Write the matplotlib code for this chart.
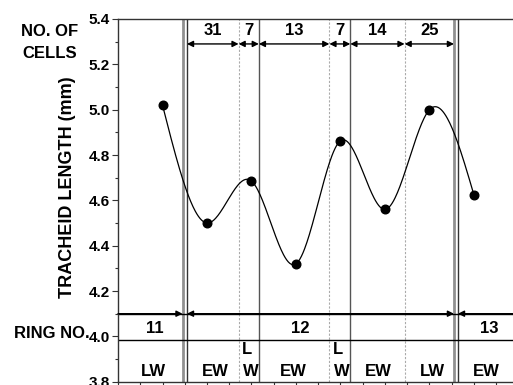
import numpy as np
import matplotlib
matplotlib.use("Agg")
import matplotlib.pyplot as plt
from matplotlib.ticker import MultipleLocator

# ---- data ----
positions = [2, 4, 6, 8, 10, 12, 14, 16]
tracheid_length = [5.02, 4.50, 4.685, 4.32, 4.863, 4.56, 5.00, 4.623]

cell_counts = ["31", "7", "13", "7", "14", "25"]
cell_bounds = [3.1, 5.42, 6.33, 9.5, 10.44, 12.88, 15.1]

ring_labels = ["11", "12", "13"]
ring_label_x = [1.66, 8.18, 16.7]
ring_bounds = [2.9, 3.1, 15.1, 15.28]

zone_labels = ["LW", "EW", "L\nW", "EW", "L\nW", "EW", "LW", "EW"]
zone_x = [1.58, 4.36, 5.87, 7.88, 9.97, 11.7, 14.14, 16.57]

dotted_lines = [5.42, 9.5, 12.88]
solid_lines = [6.33, 10.44]
gray_lines = [2.9, 15.1]
dark_lines = [3.1, 15.28]

yticks = [3.8, 4.0, 4.2, 4.4, 4.6, 4.8, 5.0, 5.2, 5.4]


def natural_spline(x, y, xs):
    x = np.asarray(x, float); y = np.asarray(y, float)
    n = len(x); h = np.diff(x)
    A = np.zeros((n, n)); r = np.zeros(n)
    A[0, 0] = 1; A[-1, -1] = 1
    for i in range(1, n - 1):
        A[i, i - 1] = h[i - 1]
        A[i, i] = 2 * (h[i - 1] + h[i])
        A[i, i + 1] = h[i]
        r[i] = 3 * ((y[i + 1] - y[i]) / h[i] - (y[i] - y[i - 1]) / h[i - 1])
    c = np.linalg.solve(A, r)
    b = (y[1:] - y[:-1]) / h - h * (2 * c[:-1] + c[1:]) / 3
    d = (c[1:] - c[:-1]) / (3 * h)
    idx = np.clip(np.searchsorted(x, xs) - 1, 0, n - 2)
    dx = xs - x[idx]
    return y[idx] + b[idx] * dx + c[idx] * dx ** 2 + d[idx] * dx ** 3


plt.rcParams['font.family'] = ['Liberation Sans', 'DejaVu Sans']
plt.rcParams['font.weight'] = 'bold'

FS = 12

W, H = 513, 385
fig = plt.figure(figsize=(W / 100, H / 100), dpi=100)
x0, x1 = 118, 118 + 18 * 22.25
y0, y1 = 381.7, 19
ax = fig.add_axes([x0 / W, 1 - y0 / H, (x1 - x0) / W, (y0 - y1) / H])
ax.set_xlim(0, 18)
ax.set_ylim(3.8, 5.4)

for s in ['left', 'top', 'bottom', 'right']:
    ax.spines[s].set_color('#333333')
    ax.spines[s].set_linewidth(1.0)

ax.xaxis.set_major_locator(MultipleLocator(1))
ax.set_xticklabels([])
ax.tick_params(axis='x', direction='out', length=4, width=0.8, color='#333333')
ax.set_yticks(yticks)
ax.yaxis.set_minor_locator(MultipleLocator(0.1))
ax.set_yticklabels([f"{v:.1f}" for v in yticks], fontsize=11, fontweight='bold')
ax.tick_params(axis='y', which='major', direction='out', length=4.5, width=0.8,
               color='#333333', pad=1.5)
ax.tick_params(axis='y', which='minor', direction='out', length=2.5, width=0.8,
               color='#333333')

# vertical boundaries
for xv in dotted_lines:
    ax.axvline(xv, color='#aaaaaa', lw=0.8, ls=(0, (2, 1.5)))
for xv in solid_lines:
    ax.axvline(xv, color='#555555', lw=1.0)
for xv in gray_lines:
    ax.axvline(xv, color='#909090', lw=2.0)
for xv in dark_lines:
    ax.axvline(xv, color='#333333', lw=1.0)

# horizontal lines in lower band
ax.axhline(3.985, color='black', lw=1.0)
ax.plot([0, 18], [4.1, 4.1], color='black', lw=1.0)

arrow_kw = dict(color='black', lw=1.0, shrinkA=0, shrinkB=0, mutation_scale=9)

# ring arrows
ax.annotate('', xy=(ring_bounds[0], 4.1), xytext=(0, 4.1),
            arrowprops=dict(arrowstyle='-|>', **arrow_kw))
ax.annotate('', xy=(ring_bounds[2], 4.1), xytext=(ring_bounds[1], 4.1),
            arrowprops=dict(arrowstyle='<|-|>', **arrow_kw))
ax.annotate('', xy=(ring_bounds[3], 4.1), xytext=(18, 4.1),
            arrowprops=dict(arrowstyle='-|>', **arrow_kw))
for lab, xv in zip(ring_labels, ring_label_x):
    ax.text(xv, 4.035, lab, ha='center', va='center', fontsize=FS, fontweight='bold')

# cell count arrows
for i, lab in enumerate(cell_counts):
    a, b = cell_bounds[i], cell_bounds[i + 1]
    ax.annotate('', xy=(b, 5.29), xytext=(a, 5.29),
                arrowprops=dict(arrowstyle='<|-|>', **arrow_kw))
    ax.text((a + b) / 2, 5.35, lab, ha='center', va='center', fontsize=FS,
            fontweight='bold')

# zone labels
for lab, xv in zip(zone_labels, zone_x):
    if '\n' in lab:
        top, bot = lab.split('\n')
        ax.text(xv - 0.08, 3.94, top, ha='center', va='center', fontsize=FS,
                fontweight='bold')
        ax.text(xv + 0.08, 3.846, bot, ha='center', va='center', fontsize=FS,
                fontweight='bold')
    else:
        ax.text(xv, 3.846, lab, ha='center', va='center', fontsize=FS,
                fontweight='bold')

# spline curve and points
xs = np.linspace(positions[0], positions[-1], 400)
ax.plot(xs, natural_spline(positions, tracheid_length, xs), color='black', lw=0.9)
ax.plot(positions, tracheid_length, 'o', color='black', markersize=6.2)

# outside texts
fig.text(50 / W, 1 - 31.5 / H, "NO. OF", ha='center', va='center', fontsize=FS,
         fontweight='bold')
fig.text(50 / W, 1 - 53 / H, "CELLS", ha='center', va='center', fontsize=FS,
         fontweight='bold')
fig.text(14 / W, 1 - 333 / H, "RING NO.", ha='left', va='center', fontsize=FS,
         fontweight='bold')
fig.text(68 / W, 1 - 187 / H, "TRACHEID LENGTH (mm)", ha='center', va='center',
         rotation=90, fontsize=13, fontweight='bold')

fig.savefig('out.png', dpi=100)
